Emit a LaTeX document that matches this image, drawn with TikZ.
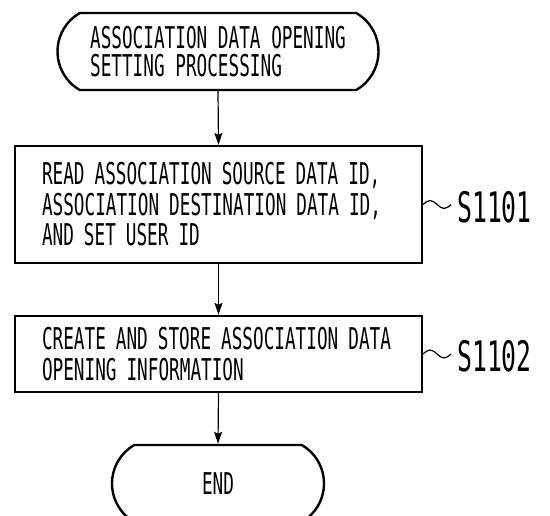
\documentclass[tikz,border=0pt]{standalone}
\usepackage{fontspec}
\setmainfont[FakeStretch=0.59]{DejaVu Sans Mono}
\usetikzlibrary{arrows.meta,shapes.misc}
\begin{document}
\begin{tikzpicture}[x=1pt,y=-1pt,
  term/.style={rounded rectangle, rounded rectangle arc length=120, draw, line width=2.4pt,
    minimum height=77pt, inner sep=0pt, align=left, font=\fontsize{30}{28}\selectfont},
  procbox/.style={rectangle, draw, line width=2.2pt, text width=353pt, inner xsep=27pt,
    inner ysep=0pt, align=left, font=\fontsize{30}{30.5}\selectfont},
  flow/.style={draw, line width=1.2pt, -{Stealth[length=12pt,width=8pt,inset=2pt]}},
  steplabel/.style={anchor=west, inner sep=0pt, font=\fontsize{42}{42}\selectfont},
  wave/.style={draw, line width=1.2pt}]
\useasboundingbox (0,0) rectangle (550,516);
\node[term, minimum width=321pt] (start) at (218,51.5) {ASSOCIATION DATA OPENING\\SETTING PROCESSING};
\node[procbox, minimum height=117pt] (b1) at (218.5,204.5) {READ ASSOCIATION SOURCE DATA ID,\\ASSOCIATION DESTINATION DATA ID,\\AND SET USER ID};
\node[procbox, minimum height=76pt] (b2) at (218.5,354) {CREATE AND STORE ASSOCIATION DATA\\OPENING INFORMATION};
\node[term, minimum width=212pt] (end) at (218,483.5) {END};
\draw[flow] (start.south) -- (b1.north);
\draw[flow] (b1.south) -- (b2.north);
\draw[flow] (b2.south) -- (end.north);
\draw[wave] (b1.east) sin ++(7,-4) cos ++(7,4) sin ++(7,4) cos ++(7,-4) coordinate (w1);
\node[steplabel] (l1) at (457,207) {S1101};
\draw[wave] (b2.east) sin ++(7,-4) cos ++(7,4) sin ++(7,4) cos ++(7,-4) coordinate (w2);
\node[steplabel] (l2) at (457,356) {S1102};
\end{tikzpicture}
\end{document}
